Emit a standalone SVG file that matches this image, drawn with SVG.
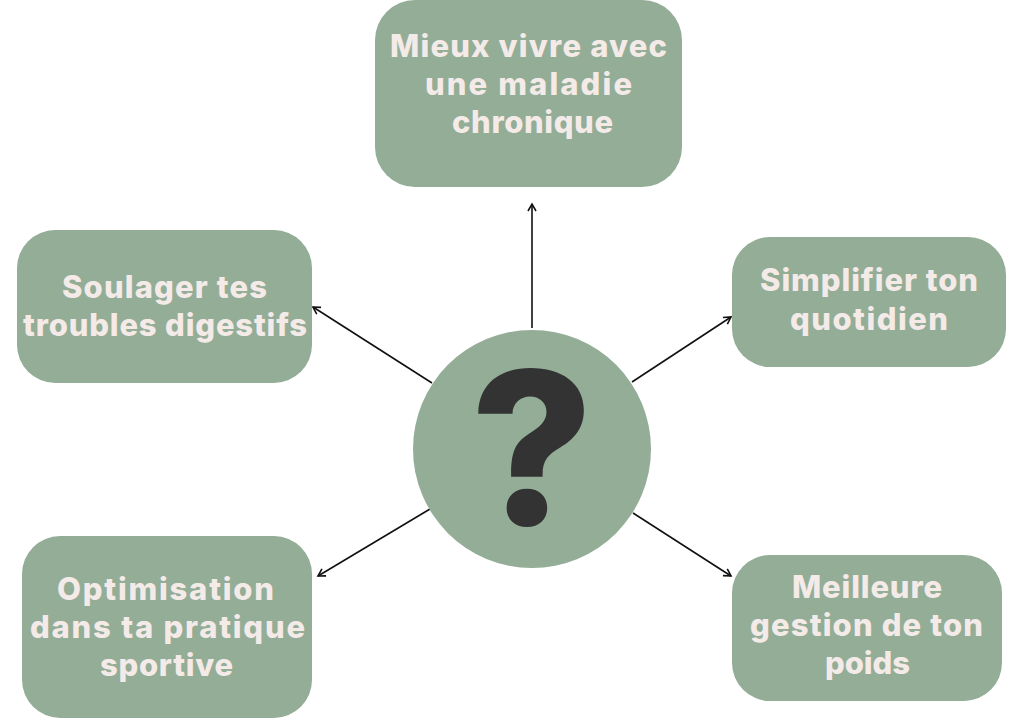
<svg xmlns="http://www.w3.org/2000/svg" width="1024" height="720" viewBox="0 0 1024 720">
  <defs>
    <marker id="arr" markerUnits="userSpaceOnUse" markerWidth="14" markerHeight="14" viewBox="-10 -7 12 14" refX="0" refY="0" orient="auto">
      <path d="M-7,-4 L0,0 L-7,4" fill="none" stroke="#111" stroke-width="1.6" stroke-linejoin="miter"/>
    </marker>
  </defs>
  <style>
    .box { fill: #93ad96; }
    .lbl { font-family: "Inter", "Open Sans", "Liberation Sans", sans-serif; font-weight: 800; font-size: 31px; fill: #f4eae8; text-anchor: middle; }
    .conn { stroke: #111; stroke-width: 1.6; fill: none; marker-end: url(#arr); }
    .q { font-family: "Inter", "Open Sans", "Liberation Sans", sans-serif; font-weight: 800; font-size: 213px; fill: #333333; text-anchor: middle; }
  </style>
  <rect width="1024" height="720" fill="#ffffff"/>

  <g id="connectors">
    <line class="conn" x1="532" y1="328" x2="532" y2="204"/>
    <line class="conn" x1="432" y1="383" x2="313" y2="307"/>
    <line class="conn" x1="430" y1="509" x2="318" y2="576"/>
    <line class="conn" x1="632" y1="382" x2="731" y2="317"/>
    <line class="conn" x1="633" y1="513" x2="731" y2="576"/>
  </g>

  <g id="center">
    <circle cx="532" cy="449" r="119" class="box"/>
    <text class="q" x="532" y="525">?</text>
  </g>

  <g id="node-top">
    <rect class="box" x="375" y="0" width="307" height="187" rx="40"/>
    <text class="lbl" x="528.5" y="57" textLength="277">Mieux vivre avec</text>
    <text class="lbl" x="528.5" y="95" textLength="207">une maladie</text>
    <text class="lbl" x="532.5" y="133" textLength="161">chronique</text>
  </g>

  <g id="node-upper-left">
    <rect class="box" x="17" y="230" width="295" height="153" rx="38"/>
    <text class="lbl" x="164.5" y="298" textLength="205">Soulager tes</text>
    <text class="lbl" x="165" y="336" textLength="284">troubles digestifs</text>
  </g>

  <g id="node-upper-right">
    <rect class="box" x="732" y="237" width="274" height="130" rx="38"/>
    <text class="lbl" x="869" y="291" textLength="218">Simplifier ton</text>
    <text class="lbl" x="869" y="330" textLength="158">quotidien</text>
  </g>

  <g id="node-lower-left">
    <rect class="box" x="22" y="536" width="290" height="182" rx="38"/>
    <text class="lbl" x="165.5" y="600" textLength="217">Optimisation</text>
    <text class="lbl" x="167.5" y="638" textLength="275">dans ta pratique</text>
    <text class="lbl" x="166.5" y="676" textLength="133">sportive</text>
  </g>

  <g id="node-lower-right">
    <rect class="box" x="732" y="555" width="270" height="146" rx="38"/>
    <text class="lbl" x="867" y="598" textLength="150">Meilleure</text>
    <text class="lbl" x="866.5" y="636" textLength="233">gestion de ton</text>
    <text class="lbl" x="867.5" y="674" textLength="85">poids</text>
  </g>
</svg>
